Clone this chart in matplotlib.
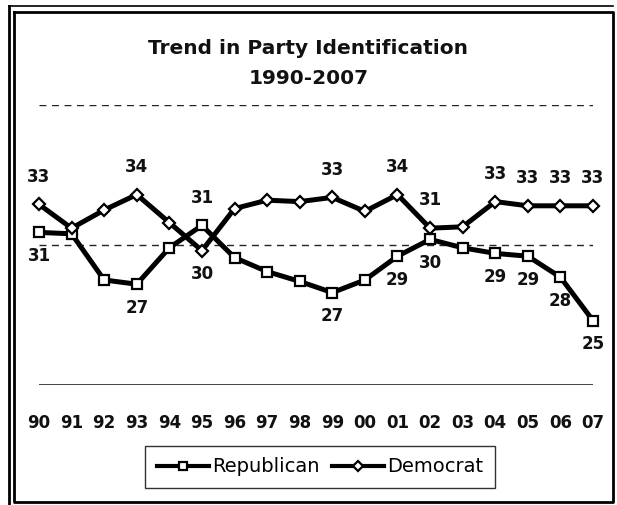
import numpy as np
import matplotlib.pyplot as plt
from matplotlib.lines import Line2D

years = ["90", "91", "92", "93", "94", "95", "96", "97", "98",
         "99", "00", "01", "02", "03", "04", "05", "06", "07"]
republican = [30.9, 30.8, 27.5, 27.2, 29.8, 31.4, 29.1, 28.1, 27.4,
              26.6, 27.5, 29.2, 30.4, 29.8, 29.4, 29.2, 27.7, 24.6]
democrat = [32.9, 31.2, 32.5, 33.6, 31.6, 29.6, 32.6, 33.2, 33.1,
            33.4, 32.4, 33.6, 31.2, 31.3, 33.1, 32.8, 32.8, 32.8]
# which points carry a value label: (index, above?)
rep_labels = [(0, False), (3, False), (5, True), (9, False), (11, False),
              (12, False), (14, False), (15, False), (16, False), (17, False)]
dem_labels = [(0, True), (3, True), (5, False), (9, True), (11, True),
              (12, True), (14, True), (15, True), (16, True), (17, True)]

W, H = 617, 505
fig = plt.figure(figsize=(W / 100, H / 100), dpi=100, facecolor="white")
# plot area in pixels: x 39..593, y 105..385
ax = fig.add_axes([39 / W, 1 - 385 / H, 554 / W, 280 / H])
x = np.arange(len(years))

font = dict(family="DejaVu Sans", fontweight="bold", fontsize=12, color="#111111")

# gridlines
ax.axhline(40, color="#222222", lw=1, ls=(0, (5, 4)), zorder=1)
ax.axhline(30, color="#222222", lw=1, ls=(0, (5, 4)), zorder=1)
ax.axhline(20, color="#222222", lw=1.2, zorder=1)

ax.plot(x, republican, color="black", lw=3.6, marker="s", ms=7.5,
        mfc="white", mec="black", mew=1.6, clip_on=False, zorder=3,
        label="Republican")
ax.plot(x, democrat, color="black", lw=3.6, marker="D", ms=6.5,
        mfc="white", mec="black", mew=1.6, clip_on=False, zorder=4,
        label="Democrat")

for series, labels in ((republican, rep_labels), (democrat, dem_labels)):
    for i, above in labels:
        off = 20 if above else -17
        ax.annotate(str(int(round(series[i]))), (x[i], series[i]),
                    xytext=(0, off), textcoords="offset points",
                    ha="center", va="center", **font)

ax.set_xlim(0, len(years) - 1)
ax.set_ylim(20, 40)
ax.set_xticks(x)
ax.set_xticklabels(years, **font)
ax.tick_params(axis="x", length=0, pad=21)
ax.set_yticks([])
for s in ax.spines.values():
    s.set_visible(False)

fig.text(0.5, 1 - 48 / H, "Trend in Party Identification", ha="center",
         va="center", family="DejaVu Sans", fontweight="bold", fontsize=14.5,
         color="#111111")
fig.text(0.5, 1 - 78 / H, "1990-2007", ha="center", va="center",
         family="DejaVu Sans", fontweight="bold", fontsize=14.5, color="#111111")

leg = fig.legend(loc="center", bbox_to_anchor=(320 / W, 1 - 467 / H),
                 ncol=2, frameon=True, fancybox=False, edgecolor="black",
                 handlelength=2.7, handletextpad=0.15, columnspacing=0.6,
                 borderpad=0.6, markerscale=0.8,
                 prop=dict(family="DejaVu Sans", size=14))
leg.get_frame().set_linewidth(1.0)
for line in leg.get_lines():
    line.set_linewidth(3)

# outer frame, double on left and top
def fline(xs, ys, lw):
    fig.add_artist(Line2D([v / W for v in xs], [1 - v / H for v in ys],
                          color="black", lw=lw))

fline([14, 613, 613, 14, 14], [12, 12, 502, 502, 12], 2)
fline([9, 9], [6, 505], 2)
fline([9, 613], [6, 6], 1.2)

fig.savefig("out.png", dpi=100, facecolor="white")
